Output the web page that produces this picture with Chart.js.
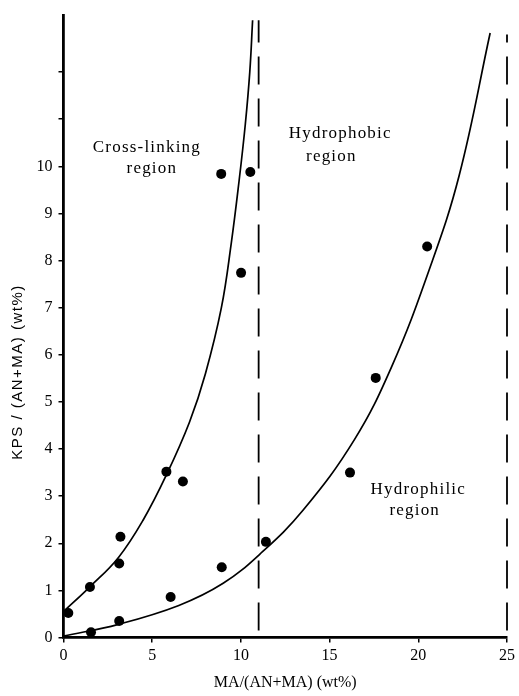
<!DOCTYPE html>
<html>
<head>
<meta charset="utf-8">
<script src="https://cdn.jsdelivr.net/npm/chart.js@4/dist/chart.umd.min.js"></script>
<style>
  html, body { margin: 0; padding: 0; background: #fff; }
</style>
</head>
<body>
<canvas id="chart" width="519" height="696"></canvas>
<script>
// measured points (MA wt%, KPS wt%)
const MEASURED_X = [0.27, 1.49, 1.55, 3.21, 3.14, 3.14, 5.8, 6.73, 6.04, 8.89, 10.53, 10.01, 8.92, 11.41, 16.15, 17.6, 20.5];
const MEASURED_Y = [0.52, 1.07, 0.11, 2.14, 1.57, 0.35, 3.52, 3.31, 0.86, 9.84, 9.88, 7.74, 1.49, 2.03, 3.50, 5.51, 8.30];

// boundary curve between cross-linking and hydrophilic regions
const CROSSLINK_X = [0, 1.5, 3.1, 4.5, 5.8, 7.1, 8.0, 8.9, 9.45, 9.9, 10.25, 10.5, 10.66];
const CROSSLINK_Y = [0.55, 1.08, 1.7, 2.5, 3.45, 4.57, 5.6, 7.0, 8.35, 9.7, 10.9, 12.0, 13.1];

// boundary curve between hydrophilic and hydrophobic regions
const HYDRO_X = [0, 3.1, 6.5, 9.0, 11.1, 13.5, 16.4, 18.5, 20.6, 22.3, 24.05];
const HYDRO_Y = [0.03, 0.28, 0.68, 1.15, 1.78, 2.7, 4.2, 5.75, 7.79, 9.8, 12.83];

// dashed region borders
const BORDER_X = [11, 25];
const BORDER_TOP = [13.1, 12.8];
const BORDER_BOTTOM = 0.15;

const Y_LABEL_MAX = 10;
const Y_TICK_MAX = 12;

const REGION_TEXT = [
    ["Cross-linking", 4.7, 10.41],
    ["region", 4.98, 9.95],
    ["Hydrophobic", 15.6, 10.7],
    ["region", 15.1, 10.2],
    ["Hydrophilic", 20.0, 3.14],
    ["region", 19.8, 2.7]
];

const SERIF = "'Liberation Serif', 'DejaVu Serif', serif";
const SANS = "'Liberation Sans', Arial, sans-serif";

function pairs(xs, ys) {
    return xs.map((x, i) => ({ x: x, y: ys[i] }));
}

let datasets = [
    {
        type: "scatter",
        data: pairs(MEASURED_X, MEASURED_Y),
        pointRadius: 5,
        pointBackgroundColor: "#000",
        pointBorderWidth: 0
    },
    {
        type: "line",
        data: pairs(CROSSLINK_X, CROSSLINK_Y),
        borderColor: "#000",
        borderWidth: 1.7,
        pointRadius: 0,
        tension: 0.4,
        clip: false
    },
    {
        type: "line",
        data: pairs(HYDRO_X, HYDRO_Y),
        borderColor: "#000",
        borderWidth: 1.7,
        pointRadius: 0,
        tension: 0.4,
        clip: false
    }
];

// one dashed line per border
for (let i = 0; i < BORDER_X.length; i++) {
    datasets.push({
        type: "line",
        data: [{ x: BORDER_X[i], y: BORDER_BOTTOM }, { x: BORDER_X[i], y: BORDER_TOP[i] }],
        borderColor: "#000",
        borderWidth: 1.8,
        borderDash: [28, 14],
        pointRadius: 0,
        clip: false
    });
}

// region names and the off-centre y axis title
const textPlugin = {
    id: "regionText",
    afterDraw(chart) {
        const ctx = chart.ctx;
        const xs = chart.scales.x;
        const ys = chart.scales.y;
        ctx.save();
        ctx.fillStyle = "#000";
        ctx.textAlign = "center";
        ctx.textBaseline = "middle";
        ctx.font = "17px " + SERIF;
        ctx.letterSpacing = "1.2px";
        for (const [txt, x, y] of REGION_TEXT) {
            ctx.fillText(txt, xs.getPixelForValue(x), ys.getPixelForValue(y));
        }
        ctx.translate(18, 372);
        ctx.rotate(-Math.PI / 2);
        ctx.font = "15px " + SANS;
        ctx.letterSpacing = "1.5px";
        ctx.fillText("KPS / (AN+MA) (wt%)", 0, 0);
        ctx.restore();
    }
};

new Chart(document.getElementById("chart").getContext("2d"), {
    data: { datasets: datasets },
    options: {
        responsive: false,
        animation: false,
        layout: { padding: { top: 9, right: 11, left: 0, bottom: 0 } },
        plugins: { legend: { display: false }, tooltip: { enabled: false } },
        scales: {
            x: {
                type: "linear",
                min: 0,
                max: 25,
                border: { display: true, color: "#000", width: 2.8 },
                grid: { display: true, drawOnChartArea: false, drawTicks: true, tickLength: 5, color: "#000", lineWidth: 1.5 },
                ticks: { stepSize: 5, color: "#000", padding: 4, font: { family: SERIF, size: 16 } },
                title: { display: true, text: "MA/(AN+MA) (wt%)", color: "#000", font: { family: SERIF, size: 16 }, padding: { top: 0, bottom: 4 } },
                afterFit(scale) { scale.height = 58.5; }
            },
            y: {
                type: "linear",
                min: 0,
                max: 13.2,
                border: { display: true, color: "#000", width: 2.8 },
                grid: { display: true, drawOnChartArea: false, drawTicks: true, tickLength: 5, color: "#000", lineWidth: 1.5 },
                ticks: {
                    stepSize: 1,
                    color: "#000",
                    padding: 6,
                    font: { family: SERIF, size: 16 },
                    callback: (v) => (v <= Y_LABEL_MAX ? v : "")
                },
                afterBuildTicks(scale) {
                    scale.ticks = scale.ticks.filter((t) => Number.isInteger(t.value) && t.value <= Y_TICK_MAX);
                },
                afterFit(scale) { scale.width = 63.5; }
            }
        }
    },
    plugins: [textPlugin]
});
</script>
</body>
</html>
